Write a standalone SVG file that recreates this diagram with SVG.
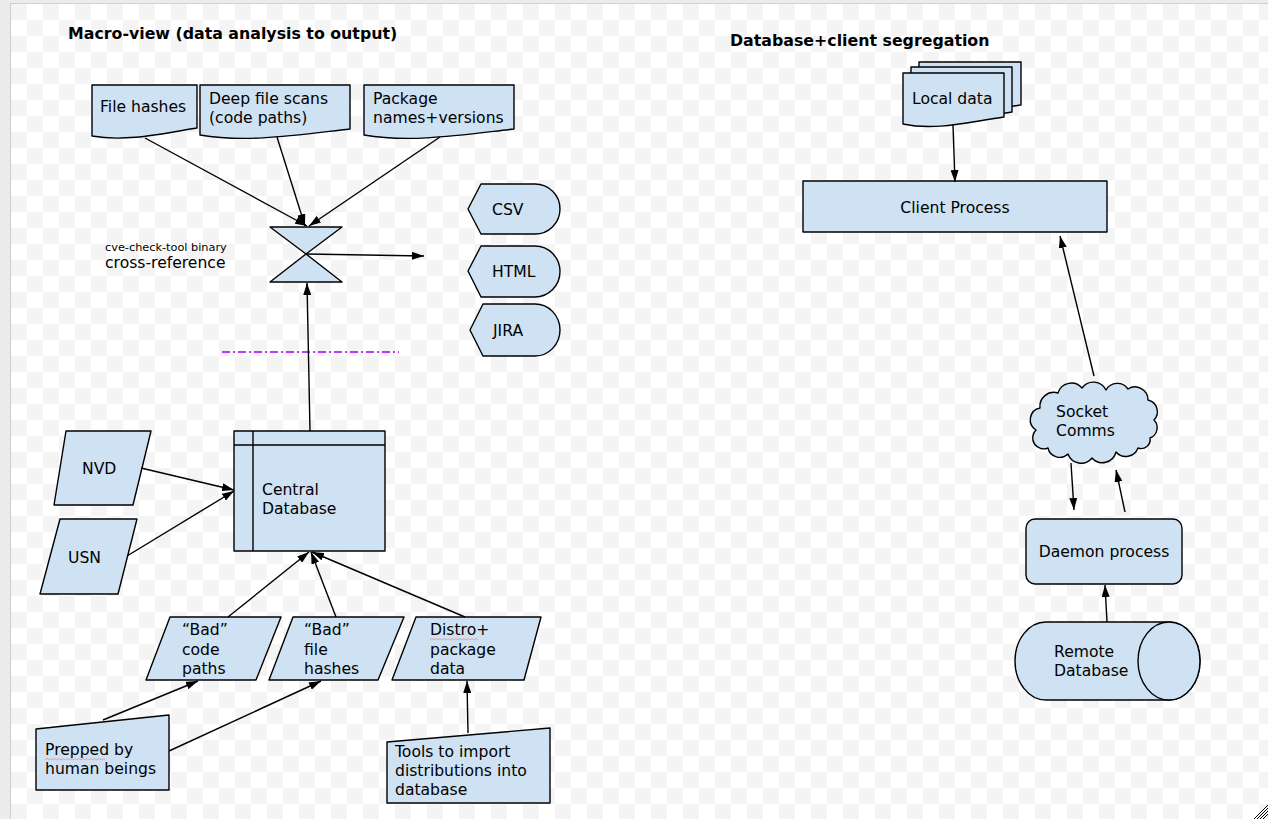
<svg xmlns="http://www.w3.org/2000/svg" width="1268" height="819" viewBox="0 0 1268 819">
<defs>
<pattern id="chk" patternUnits="userSpaceOnUse" x="11" y="4" width="32" height="32">
<rect width="32" height="32" fill="#ffffff"/>
<rect width="16" height="16" fill="#f4f4f4"/>
<rect x="16" y="16" width="16" height="16" fill="#f4f4f4"/>
</pattern>
<marker id="ah" viewBox="0 0 12 8" refX="12" refY="4" markerWidth="12" markerHeight="8" markerUnits="userSpaceOnUse" orient="auto">
<path d="M0,0 L12,4 L0,8 z" fill="#000"/>
</marker>
<style>
.s{fill:#cfe2f3;stroke:#000;stroke-width:1.4;stroke-linejoin:round}
.t{font-family:"DejaVu Sans","Liberation Sans",sans-serif;font-size:15.6px;fill:#000}
.b{font-family:"DejaVu Sans","Liberation Sans",sans-serif;font-size:15.8px;font-weight:bold;fill:#000}
.sm{font-family:"DejaVu Sans","Liberation Sans",sans-serif;font-size:11.3px;fill:#000}
.c{fill:none;stroke:#000;stroke-width:1.4;marker-end:url(#ah)}
.sq{fill:none;stroke:#f08a8a;stroke-width:0.8}
</style>
</defs>
<rect width="1268" height="819" fill="#ececec"/>
<rect x="10.5" y="3.5" width="1260" height="820" fill="url(#chk)" stroke="#cfcfcf"/>

<text class="b" x="68" y="39">Macro-view (data analysis to output)</text>
<text class="b" x="730" y="46">Database+client segregation</text>

<g id="file-hashes"><path class="s" d="M92,85 H197 V128 C160,134 125,142 92,136 Z"/><text class="t" x="100" y="112">File hashes</text></g>
<g id="deep-scans"><path class="s" d="M200,85 H350 V129 C297,135 247,143 200,135 Z"/><text class="t" x="209" y="104">Deep file scans</text><text class="t" x="209" y="123">(code paths)</text></g>
<g id="package"><path class="s" d="M364,85 H514 V129 C461,135 411,143 364,135 Z"/><text class="t" x="373" y="104">Package</text><text class="t" x="373" y="123">names+versions</text></g>

<g id="cross-reference"><path class="s" d="M270,227 H342 L306,254 Z"/><path class="s" d="M306,254 L342,282 H270 Z"/><text class="sm" x="105" y="251">cve-check-tool binary</text><text class="t" x="105" y="268">cross-reference</text></g>

<g id="csv"><path class="s" d="M468,209 L481,184 H535 A25,25 0 0 1 535,234 H481 Z"/><text class="t" x="492" y="215">CSV</text></g>
<g id="html"><path class="s" d="M468,271 L481,246 H535 A25,25.5 0 0 1 535,297 H481 Z"/><text class="t" x="492" y="277">HTML</text></g>
<g id="jira"><path class="s" d="M470,330 L483,304 H535 A25,26 0 0 1 535,356 H483 Z"/><text class="t" x="493" y="336">JIRA</text></g>

<line x1="222" y1="352" x2="399" y2="352" stroke="#9900ff" stroke-width="1.4" stroke-dasharray="8 3 2 3"/>

<g id="central-db"><rect class="s" x="234" y="431" width="151" height="120"/><line x1="253" y1="431" x2="253" y2="551" stroke="#000" stroke-width="1.4"/><line x1="234" y1="445" x2="385" y2="445" stroke="#000" stroke-width="1.4"/><text class="t" x="262" y="495">Central</text><text class="t" x="262" y="514">Database</text></g>

<g id="nvd"><path class="s" d="M66,431 H151 L133,505 H54 Z"/><text class="t" x="82" y="474">NVD</text></g>
<g id="usn"><path class="s" d="M60,519 H137 L118,594 H40 Z"/><text class="t" x="68" y="563">USN</text></g>

<g id="bad-code"><path class="s" d="M170,617 H281 L256,680 H146 Z"/><text class="t" x="182" y="635">“Bad”</text><text class="t" x="182" y="655">code</text><text class="t" x="182" y="674">paths</text></g>
<g id="bad-hashes"><path class="s" d="M293,617 H404 L378,680 H269 Z"/><text class="t" x="304" y="635">“Bad”</text><text class="t" x="304" y="655">file</text><text class="t" x="304" y="674">hashes</text></g>
<g id="distro"><path class="s" d="M416,617 H541 L524,680 H392 Z"/><text class="t" x="430" y="635">Distro+</text><path class="sq" d="M430,640 l2,-1.5 l2,1.5 l2,-1.5 l2,1.5 l2,-1.5 l2,1.5 l2,-1.5 l2,1.5 l2,-1.5 l2,1.5 l2,-1.5 l2,1.5 l2,-1.5 l2,1.5 l2,-1.5 l2,1.5 l2,-1.5 l2,1.5 l2,-1.5 l2,1.5 l2,-1.5 l2,1.5 l2,-1.5 l2,1.5"/><text class="t" x="430" y="655">package</text><text class="t" x="430" y="674">data</text></g>

<g id="prepped"><path class="s" d="M36,729 L169,715 V790 H36 Z"/><text class="t" x="45" y="755">Prepped by</text><path class="sq" d="M45,760 l2,-1.5 l2,1.5 l2,-1.5 l2,1.5 l2,-1.5 l2,1.5 l2,-1.5 l2,1.5 l2,-1.5 l2,1.5 l2,-1.5 l2,1.5 l2,-1.5 l2,1.5 l2,-1.5 l2,1.5 l2,-1.5 l2,1.5 l2,-1.5 l2,1.5 l2,-1.5 l2,1.5 l2,-1.5 l2,1.5 l2,-1.5 l2,1.5 l2,-1.5 l2,1.5 l2,-1.5 l2,1.5"/><text class="t" x="45" y="774">human beings</text></g>
<g id="tools"><path class="s" d="M387,742 L550,728 V803 H387 Z"/><text class="t" x="395" y="757">Tools to import</text><text class="t" x="395" y="776">distributions into</text><text class="t" x="395" y="795">database</text></g>

<g id="local-data"><path class="s" d="M919,62 H1021 V105 C985,110 951,119 919,112 Z"/><path class="s" d="M911,67 H1012 V112 C976,117 943,126 911,119 Z"/><path class="s" d="M903,73 H1004 V117 C968,122 935,131 903,124 Z"/><text class="t" x="912" y="104">Local data</text></g>
<g id="client"><rect class="s" x="803" y="181" width="304" height="51"/><text class="t" x="955" y="213" text-anchor="middle">Client Process</text></g>
<g id="socket"><path class="s" d="M1036,430 A12,12 0 0 1 1040,408 A14,14 0 0 1 1058,393 A14,14 0 0 1 1082,388 A14,14 0 0 1 1106,390 A13,13 0 0 1 1128,389 A13,13 0 0 1 1148,400 A12,12 0 0 1 1154,420 A11,11 0 0 1 1150,438 A9,9 0 0 1 1138,448 A13,13 0 0 1 1116,452 A14,14 0 0 1 1092,458 A14,14 0 0 1 1068,454 A12,12 0 0 1 1048,448 A11,11 0 0 1 1036,430 Z"/><text class="t" x="1056" y="417">Socket</text><text class="t" x="1056" y="436">Comms</text></g>
<g id="daemon"><rect class="s" x="1026" y="519" width="156" height="65" rx="9"/><text class="t" x="1104" y="557" text-anchor="middle">Daemon process</text></g>
<g id="remote-db"><path class="s" d="M1046,622 H1169 A31,39 0 0 1 1169,700 H1046 A31,39 0 0 1 1046,622 Z"/><ellipse class="s" cx="1169" cy="661" rx="31" ry="39"/><text class="t" x="1054" y="657">Remote</text><text class="t" x="1054" y="676">Database</text></g>

<g id="connectors">
<line class="c" x1="145" y1="138" x2="307" y2="226"/>
<line class="c" x1="277" y1="137" x2="305" y2="226"/>
<line class="c" x1="440" y1="137" x2="309" y2="226"/>
<line class="c" x1="307" y1="254" x2="424" y2="256"/>
<line class="c" x1="310" y1="431" x2="307" y2="283"/>
<line class="c" x1="141" y1="468" x2="234" y2="490"/>
<line class="c" x1="127" y1="556" x2="234" y2="491"/>
<line class="c" x1="228" y1="617" x2="309" y2="552"/>
<line class="c" x1="336" y1="617" x2="311" y2="552"/>
<line class="c" x1="465" y1="617" x2="312" y2="552"/>
<line class="c" x1="103" y1="720" x2="198" y2="681"/>
<line class="c" x1="169" y1="751" x2="321" y2="681"/>
<line class="c" x1="468" y1="733" x2="467" y2="681"/>
<line class="c" x1="953" y1="125" x2="955" y2="182"/>
<line class="c" x1="1094" y1="376" x2="1060" y2="236"/>
<line class="c" x1="1071" y1="463" x2="1074" y2="510"/>
<line class="c" x1="1125" y1="512" x2="1116" y2="470"/>
<line class="c" x1="1107" y1="622" x2="1105" y2="585"/>
</g>
<g stroke="#000" stroke-width="1">
<line x1="1254" y1="819" x2="1268" y2="805"/>
<line x1="1257" y1="819" x2="1268" y2="808"/>
<line x1="1260" y1="819" x2="1268" y2="811"/>
<line x1="1263" y1="819" x2="1268" y2="814"/>
</g>
</svg>
